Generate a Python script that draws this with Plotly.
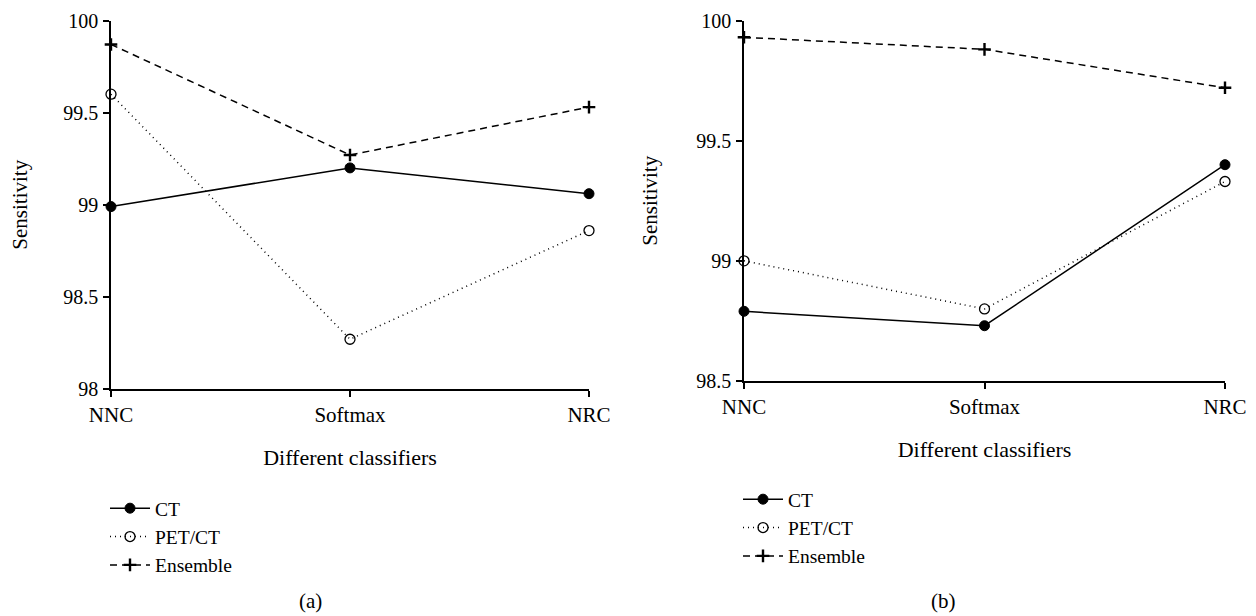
import plotly.graph_objects as go

classifiers = ["NNC", "Softmax", "NRC"]

# Panel (a)
a_ct = [98.99, 99.20, 99.06]
a_petct = [99.60, 98.27, 98.86]
a_ensemble = [99.87, 99.27, 99.53]

# Panel (b)
b_ct = [98.79, 98.73, 99.40]
b_petct = [99.00, 98.80, 99.33]
b_ensemble = [99.93, 99.88, 99.72]

a_ticks = [98, 98.5, 99, 99.5, 100]
a_ticktext = ["98", "98.5", "99", "99.5", "100"]
b_ticks = [98.5, 99, 99.5, 100]
b_ticktext = ["98.5", "99", "99.5", "100"]

FONT = "Liberation Serif"
FS = 21

fig = go.Figure()

styles = [
    ("CT", dict(color="black", width=1.5, dash="solid"),
     dict(symbol="circle", size=10, color="black", line=dict(color="black", width=1))),
    ("PET/CT", dict(color="black", width=1.5, dash="1px,4px"),
     dict(symbol="circle-open", size=10, color="black", line=dict(color="black", width=1.3))),
    ("Ensemble", dict(color="black", width=1.5, dash="7px,5px"),
     dict(symbol="cross-thin", size=9, color="black", line=dict(color="black", width=2.4))),
]

for (name, ln, mk), ys in zip(styles, [a_ct, a_petct, a_ensemble]):
    fig.add_trace(go.Scatter(x=classifiers, y=ys, name=name, mode="lines+markers",
                             line=ln, marker=mk, xaxis="x", yaxis="y",
                             legend="legend", cliponaxis=False))
for (name, ln, mk), ys in zip(styles, [b_ct, b_petct, b_ensemble]):
    fig.add_trace(go.Scatter(x=classifiers, y=ys, name=name, mode="lines+markers",
                             line=ln, marker=mk, xaxis="x2", yaxis="y2",
                             legend="legend2", cliponaxis=False))

# the page body adds an 8px margin, so the figure is 8px smaller on each side
OFF = 8
W, H = 1256 - OFF, 616 - OFF

def px_x(p):
    return (p - OFF) / W

def px_y(p):
    return 1 - (p - OFF) / H

tfont = dict(family=FONT, size=FS, color="black")
ytfont = dict(family=FONT, size=20, color="black")
xtitlefont = dict(family=FONT, size=22, color="black")
lfont = dict(family=FONT, size=19.5, color="black")

axis_common = dict(showgrid=False, zeroline=False, showline=True, linecolor="black",
                   linewidth=1.5, ticks="outside", ticklen=6, tickwidth=1.5,
                   tickcolor="black", mirror=False, automargin=False,
                   ticklabeloverflow="allow")

xa = dict(axis_common, type="category", range=[0, 2], ticklabelstandoff=0,
          tickfont=tfont,
          title=dict(text="Different classifiers", font=xtitlefont, standoff=24))
ya = dict(axis_common, ticklabelstandoff=1, tickfont=ytfont,
          title=dict(text="Sensitivity", font=tfont, standoff=33))

legend_common = dict(xanchor="left", yanchor="top", bgcolor="rgba(0,0,0,0)",
                     font=lfont, itemwidth=40, tracegroupgap=0)

fig.update_layout(
    template="none",
    width=W, height=H,
    margin=dict(l=0, r=0, t=0, b=0, autoexpand=False),
    paper_bgcolor="white", plot_bgcolor="white",
    font=tfont,
    showlegend=True,
    xaxis=dict(xa, domain=[px_x(111), px_x(589)], anchor="y"),
    yaxis=dict(ya, domain=[px_y(389), px_y(20.5)], anchor="x", range=[98, 100],
               tickvals=a_ticks, ticktext=a_ticktext),
    xaxis2=dict(xa, domain=[px_x(744), px_x(1225)], anchor="y2"),
    yaxis2=dict(ya, domain=[px_y(381), px_y(20.5)], anchor="x2", range=[98.5, 100],
                tickvals=b_ticks, ticktext=b_ticktext),
    legend=dict(legend_common, x=px_x(105), y=px_y(489)),
    legend2=dict(legend_common, x=px_x(738), y=px_y(480)),
    annotations=[
        dict(text="(a)", x=px_x(310), y=px_y(601), xref="paper", yref="paper",
             xanchor="center", yanchor="middle", showarrow=False, font=tfont),
        dict(text="(b)", x=px_x(943), y=px_y(601), xref="paper", yref="paper",
             xanchor="center", yanchor="middle", showarrow=False, font=tfont),
    ],
)

fig.write_html("out.html")
